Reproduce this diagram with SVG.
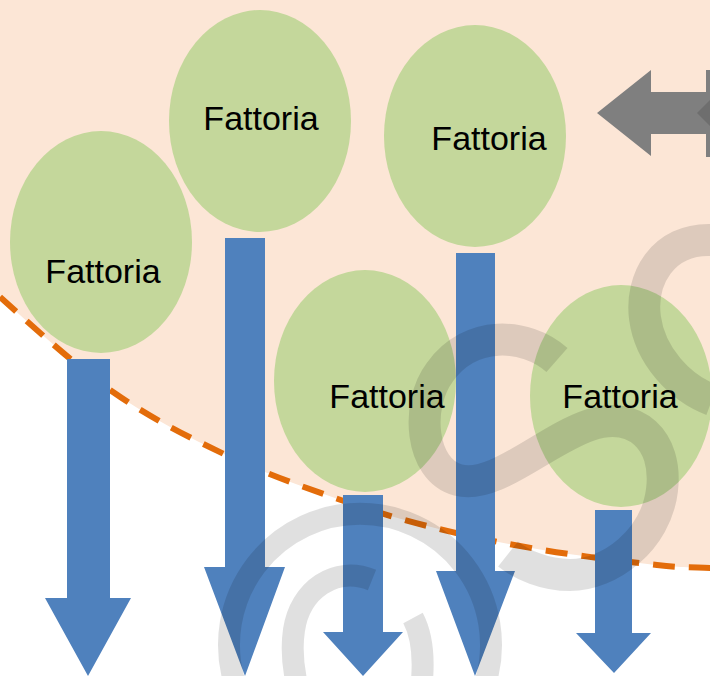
<svg xmlns="http://www.w3.org/2000/svg" width="710" height="676" viewBox="0 0 710 676">
  <style>
    .zone { fill: #FCE6D6; }
    .edge { fill: none; stroke: #E36C0A; stroke-width: 6; stroke-dasharray: 22 14; }
    .farm ellipse { fill: #C4D79B; }
    .farm text { font-family: "Liberation Sans", Arial, sans-serif; font-size: 34px; fill: #000; text-anchor: middle; }
    .flow { fill: #4F81BD; }
    .swirl { fill: none; stroke: #000; stroke-opacity: 0.12; }
    .swap { fill: #7F7F7F; }
  </style>

  <rect width="710" height="676" fill="#FFFFFF"/>

  <!-- catchment zone with dashed boundary -->
  <path class="zone" d="M0,0 V297 C27.2,321.5 75.3,365.7 113,392 C150.7,418.3 189,437.3 226,455 C263,472.7 300.2,485.8 335,498 C369.8,510.2 400.3,519.3 435,528 C469.7,536.7 506,543.8 543,550 C580,556.2 629.2,562 657,565 C684.8,568 692.8,567.2 712,568 V0 Z"/>
  <path class="edge" d="M0,297 C27.2,321.5 75.3,365.7 113,392 C150.7,418.3 189,437.3 226,455 C263,472.7 300.2,485.8 335,498 C369.8,510.2 400.3,519.3 435,528 C469.7,536.7 506,543.8 543,550 C580,556.2 629.2,562 657,565 C684.8,568 692.8,567.2 712,568"/>

  <!-- farms -->
  <g id="farm1" class="farm">
    <ellipse cx="101" cy="242" rx="91" ry="111"/>
    <text x="103" y="283">Fattoria</text>
  </g>
  <g id="farm2" class="farm">
    <ellipse cx="260" cy="121" rx="91" ry="111"/>
    <text x="261" y="130">Fattoria</text>
  </g>
  <g id="farm3" class="farm">
    <ellipse cx="475" cy="136" rx="91" ry="111"/>
    <text x="489" y="150">Fattoria</text>
  </g>
  <g id="farm4" class="farm">
    <ellipse cx="365" cy="381" rx="91" ry="111"/>
    <text x="387" y="408">Fattoria</text>
  </g>
  <g id="farm5" class="farm">
    <ellipse cx="621" cy="396" rx="91" ry="111"/>
    <text x="620" y="408">Fattoria</text>
  </g>

  <!-- outflow arrows -->
  <g id="connectors">
    <polygon class="flow" points="67,359 110,359 110,598 131,598 88,676 45,598 67,598"/>
    <polygon class="flow" points="225,238 265,238 265,567 285,567 245,676 204,567 225,567"/>
    <polygon class="flow" points="343,495 383,495 383,632 403,632 363,676 323,632 343,632"/>
    <polygon class="flow" points="456,253 495,253 495,571 515,571 475,676 436,571 456,571"/>
    <polygon class="flow" points="595,510 632,510 632,633 651,633 614,673 576,633 595,633"/>
  </g>

  <!-- translucent swirls -->
  <path class="swirl" stroke-width="32" d="M557,360 C525,332 470,330 440,372 C415,405 420,470 458,480 C495,490 545,440 590,425 C635,410 668,440 662,490 C656,540 610,575 570,575 C545,575 522,565 508,554"/>
  <path class="swirl" stroke-width="32" d="M712,240 C662,238 640,280 645,318 C650,356 680,388 712,400"/>
  <path class="swirl" stroke-width="22" d="M233.8,680 A131,131 0 1 1 486.2,680"/>
  <path class="swirl" stroke-width="22" d="M372,580 C335,565 300,590 294,630 C291,650 293,665 296,680"/>
  <path class="swirl" stroke-width="22" d="M413,618 C422,635 424,655 422,680"/>

  <!-- exchange arrow -->
  <polygon class="swap" points="597,113 651,70 651,92 706,92 706,70 712,70 712,157 706,157 706,134 651,134 651,156"/>
  <polygon fill="#6E6E6E" points="697,113 712,98 712,128"/>
</svg>
